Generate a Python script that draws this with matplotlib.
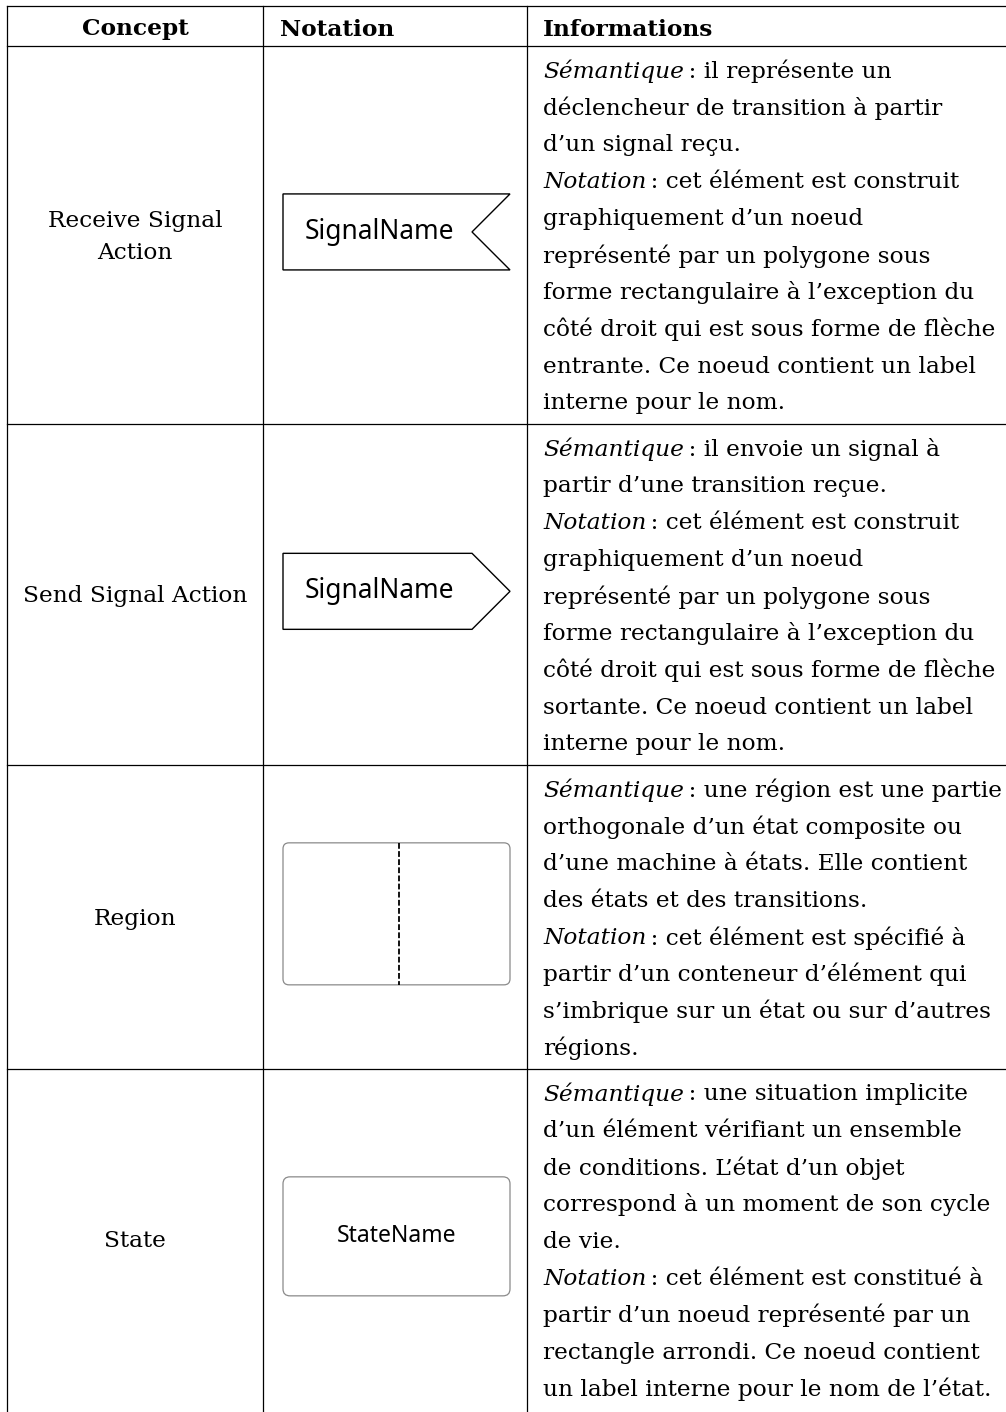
import matplotlib.pyplot as plt
from matplotlib.patches import Polygon, FancyBboxPatch

headers = ["Concept", "Notation", "Informations"]
concepts = ["Receive Signal\nAction", "Send Signal Action", "Region", "State"]
notation_kinds = ["receive", "send", "region", "state"]
notation_labels = ["SignalName", "SignalName", "", "StateName"]

# lines of the "Informations" column; tuples = (italic lead, rest)
info_receive = [
    ("Sémantique", "\u2009: il représente un"),
    "déclencheur de transition à partir",
    "d’un signal reçu.",
    ("Notation", "\u2009: cet élément est construit"),
    "graphiquement d’un noeud",
    "représenté par un polygone sous",
    "forme rectangulaire à l’exception du",
    "côté droit qui est sous forme de flèche",
    "entrante. Ce noeud contient un label",
    "interne pour le nom.",
]
info_send = [
    ("Sémantique", "\u2009: il envoie un signal à"),
    "partir d’une transition reçue.",
    ("Notation", "\u2009: cet élément est construit"),
    "graphiquement d’un noeud",
    "représenté par un polygone sous",
    "forme rectangulaire à l’exception du",
    "côté droit qui est sous forme de flèche",
    "sortante. Ce noeud contient un label",
    "interne pour le nom.",
]
info_region = [
    ("Sémantique", "\u2009: une région est une partie"),
    "orthogonale d’un état composite ou",
    "d’une machine à états. Elle contient",
    "des états et des transitions.",
    ("Notation", "\u2009: cet élément est spécifié à"),
    "partir d’un conteneur d’élément qui",
    "s’imbrique sur un état ou sur d’autres",
    "régions.",
]
info_state = [
    ("Sémantique", "\u2009: une situation implicite"),
    "d’un élément vérifiant un ensemble",
    "de conditions. L’état d’un objet",
    "correspond à un moment de son cycle",
    "de vie.",
    ("Notation", "\u2009: cet élément est constitué à"),
    "partir d’un noeud représenté par un",
    "rectangle arrondi. Ce noeud contient",
    "un label interne pour le nom de l’état.",
]
infos = [info_receive, info_send, info_region, info_state]

W, H = 1006, 1412
X_LEFT, X_C1, X_C2 = 7, 263, 527
X_INFO = 543
Y_TOP, Y_HEAD = 6, 46
LINE = 36.9
SERIF = "DejaVu Serif"
SANS = "Noto Sans"
LW = 0.9

fig = plt.figure(figsize=(W / 100, H / 100), dpi=100)
ax = fig.add_axes([0, 0, 1, 1])
ax.set_xlim(0, W)
ax.set_ylim(H, 0)
ax.axis("off")
renderer = fig.canvas.get_renderer()


def text_width(s, **kw):
    t = ax.text(0, 0, s, **kw)
    w = t.get_window_extent(renderer).width
    t.remove()
    return w


# fit serif size to the widest line of the reference (about 450 px)
fs = 10 * 451 / text_width("un label interne pour le nom de l’état.", family=SERIF, fontsize=10)
txt = dict(family=SERIF, fontsize=fs, va="center_baseline", color="black")

# header
ax.plot([X_LEFT, W], [Y_TOP, Y_TOP], color="black", lw=LW)
ax.plot([X_LEFT, W], [Y_HEAD, Y_HEAD], color="black", lw=LW)
yh = (Y_TOP + Y_HEAD) / 2 + 1
ax.text((X_LEFT + X_C1) / 2, yh, headers[0], ha="center", weight="bold", **txt)
ax.text(X_C1 + 17, yh, headers[1], ha="left", weight="bold", **txt)
ax.text(X_INFO, yh, headers[2], ha="left", weight="bold", **txt)

y0 = Y_HEAD
for concept, kind, label, lines in zip(concepts, notation_kinds, notation_labels, infos):
    n = len(lines)
    row_h = (n + 0.24) * LINE
    yc = y0 + row_h / 2

    # concept
    ax.text((X_LEFT + X_C1) / 2, yc + 2, concept, ha="center", linespacing=1.55,
            **{k: v for k, v in txt.items() if k != "va"}, va="center")

    # notation
    xl, xr = 283, 510
    sy = yc - 3
    if kind == "receive":
        pts = [(xl, sy - 38), (xr, sy - 38), (xr - 38, sy), (xr, sy + 38), (xl, sy + 38)]
        ax.add_patch(Polygon(pts, closed=True, fill=False, ec="black", lw=1.0))
        ax.text(379, sy, label, ha="center", va="center", family=SANS, fontsize=19)
    elif kind == "send":
        pts = [(xl, sy - 38), (xr - 38, sy - 38), (xr, sy), (xr - 38, sy + 38), (xl, sy + 38)]
        ax.add_patch(Polygon(pts, closed=True, fill=False, ec="black", lw=1.0))
        ax.text(379, sy, label, ha="center", va="center", family=SANS, fontsize=19)
    elif kind == "region":
        hh = 71
        ax.add_patch(FancyBboxPatch((xl, sy - hh), xr - xl, 2 * hh,
                                    boxstyle="round,pad=0,rounding_size=6",
                                    fill=False, ec="#8a8a8a", lw=0.9))
        ax.plot([399, 399], [sy - hh, sy + hh], color="black", lw=1.3,
                linestyle=(0, (3.2, 1.3)))
    else:
        hh = 59.5
        ax.add_patch(FancyBboxPatch((xl, sy - hh), xr - xl, 2 * hh,
                                    boxstyle="round,pad=0,rounding_size=7",
                                    fill=False, ec="#8a8a8a", lw=0.9))
        ax.text(397, sy, label, ha="center", va="center", family=SANS, fontsize=16.5)

    # informations
    first = yc - (n - 1) * LINE / 2
    for i, line in enumerate(lines):
        y = first + i * LINE
        if isinstance(line, tuple):
            lead, rest = line
            t = ax.text(X_INFO, y, lead, ha="left", style="italic", **txt)
            w = t.get_window_extent(renderer).width
            ax.text(X_INFO + w, y, rest, ha="left", **txt)
        else:
            ax.text(X_INFO, y, line, ha="left", **txt)

    y0 += row_h
    if y0 < H - 8:
        ax.plot([X_LEFT, W], [y0, y0], color="black", lw=LW)

# vertical rules
for x in (X_LEFT, X_C1, X_C2):
    ax.plot([x, x], [Y_TOP, H], color="black", lw=LW)

fig.savefig("out.png", dpi=100)
